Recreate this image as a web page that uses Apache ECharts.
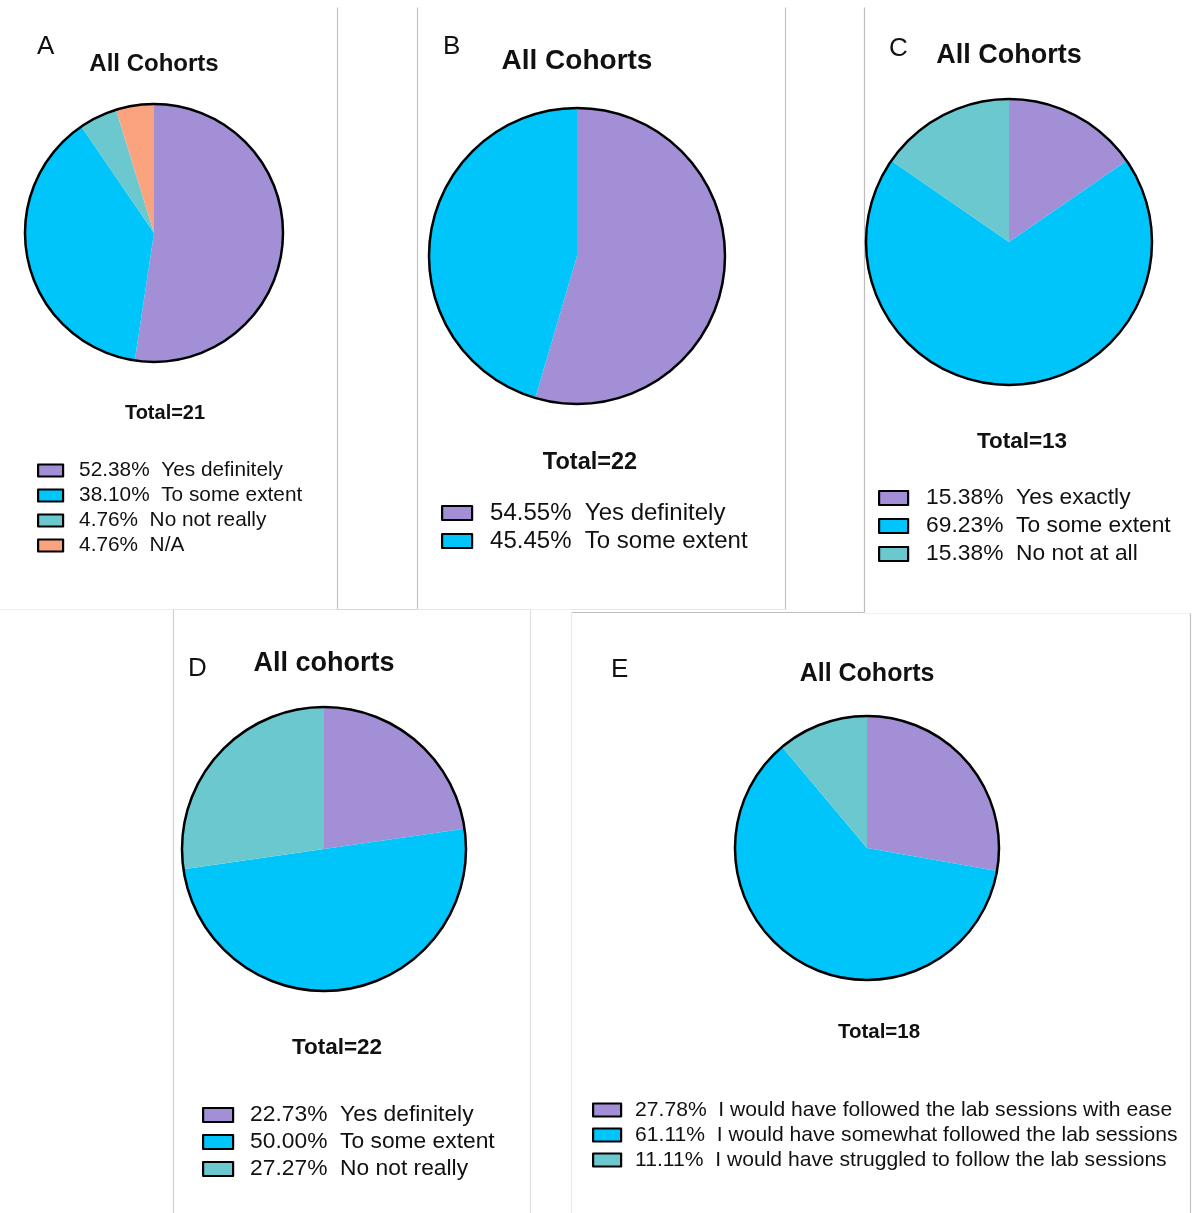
<!DOCTYPE html>
<html>
<head>
<meta charset="utf-8">
<title>All Cohorts – survey responses</title>
<script src="https://cdn.jsdelivr.net/npm/echarts@6/dist/echarts.min.js"></script>
<style>
  html, body { margin: 0; padding: 0; background: #fff; }
  #chart { width: 1196px; height: 1213px; }
</style>
</head>
<body>
<div id="chart"></div>
<script>
// ---- survey results, percent of respondents per answer ----
const aLabels = ['Yes definitely', 'To some extent', 'No not really', 'N/A'];
const aValues = [52.38, 38.10, 4.76, 4.76];
const aTotal = 21;

const bLabels = ['Yes definitely', 'To some extent'];
const bValues = [54.55, 45.45];
const bTotal = 22;

const cLabels = ['Yes exactly', 'To some extent', 'No not at all'];
const cValues = [15.38, 69.23, 15.38];
const cTotal = 13;

const dLabels = ['Yes definitely', 'To some extent', 'No not really'];
const dValues = [22.73, 50.00, 27.27];
const dTotal = 22;

const eLabels = ['I would have followed the lab sessions with ease',
                 'I would have somewhat followed the lab sessions',
                 'I would have struggled to follow the lab sessions'];
const eValues = [27.78, 61.11, 11.11];
const eTotal = 18;

const panelLetters = ['A', 'B', 'C', 'D', 'E'];
const panelTitles = ['All Cohorts', 'All Cohorts', 'All Cohorts', 'All cohorts', 'All Cohorts'];

// slice colours by answer order
const palette = ['#a38fd5', '#00c5fb', '#6bc8cf', '#fba27e'];
const FONT = '"Liberation Sans", Arial, Helvetica, sans-serif';

// panel geometry and text sizes
const layout = [
  { letter: [37, 34, 26], title: [154, 52, 24], pie: [154, 233, 129], total: [165, 403, 20],
    legend: { left: 37, top: 460, font: 20.8, lh: 21, gap: 4, iw: 25, ih: 12, pad: 11 } },
  { letter: [443, 34, 26], title: [577, 47, 28], pie: [577, 256, 148], total: [590, 451, 23.5],
    legend: { left: 441, top: 501, font: 24, lh: 24, gap: 4, iw: 30, ih: 14, pad: 13 } },
  { letter: [889, 36, 26], title: [1009, 42, 27], pie: [1009, 242, 143], total: [1022, 430, 22.5],
    legend: { left: 878, top: 486.5, font: 22.8, lh: 23, gap: 5, iw: 29, ih: 14, pad: 13 } },
  { letter: [188, 656, 26], title: [324, 650, 27], pie: [324, 849, 142], total: [337, 1036, 22.5],
    legend: { left: 202, top: 1103.5, font: 22.8, lh: 23, gap: 4, iw: 30, ih: 14, pad: 12 } },
  { letter: [611, 657, 26], title: [867, 662, 25], pie: [867, 848, 132], total: [879, 1022, 20.5],
    legend: { left: 592, top: 1099.5, font: 21.1, lh: 21, gap: 4, iw: 28, ih: 13, pad: 9 } }
];

const panels = [
  { labels: aLabels, values: aValues, total: aTotal },
  { labels: bLabels, values: bValues, total: bTotal },
  { labels: cLabels, values: cValues, total: cTotal },
  { labels: dLabels, values: dValues, total: dTotal },
  { labels: eLabels, values: eValues, total: eTotal }
];

const itemName = (v, label) => v.toFixed(2) + '%  ' + label;

const titles = [];
const legends = [];
const series = [];

panels.forEach((p, i) => {
  const L = layout[i];
  titles.push({
    text: panelLetters[i], left: L.letter[0], top: L.letter[1], padding: 0,
    textStyle: { fontFamily: FONT, fontSize: L.letter[2], fontWeight: 'normal', color: '#111' }
  });
  titles.push({
    text: panelTitles[i], left: L.title[0], top: L.title[1], textAlign: 'center', padding: 0,
    textStyle: { fontFamily: FONT, fontSize: L.title[2], fontWeight: 'bold', color: '#111' }
  });
  titles.push({
    text: 'Total=' + p.total, left: L.total[0], top: L.total[1], textAlign: 'center', padding: 0,
    textStyle: { fontFamily: FONT, fontSize: L.total[2], fontWeight: 'bold', color: '#111' }
  });

  const data = p.values.map((v, k) => ({
    name: itemName(v, p.labels[k]),
    value: v,
    itemStyle: { color: palette[k] }
  }));

  series.push({
    type: 'pie',
    center: [L.pie[0], L.pie[1]],
    radius: L.pie[2],
    startAngle: 90,
    clockwise: true,
    label: { show: false },
    labelLine: { show: false },
    itemStyle: { borderWidth: 0 },
    emphasis: { disabled: true },
    silent: true,
    data: data
  });
  // black outline round the whole pie
  series.push({
    type: 'pie',
    center: [L.pie[0], L.pie[1]],
    radius: L.pie[2],
    label: { show: false },
    labelLine: { show: false },
    itemStyle: { color: 'rgba(0,0,0,0)', borderColor: '#000', borderWidth: 2.5 },
    emphasis: { disabled: true },
    silent: true,
    data: [{ value: 1, name: 'outline' + i }]
  });

  const lg = L.legend;
  legends.push({
    orient: 'vertical',
    left: lg.left,
    top: lg.top,
    padding: 0,
    itemGap: lg.gap,
    itemWidth: lg.iw,
    itemHeight: lg.ih,
    icon: 'rect',
    selectedMode: false,
    itemStyle: { borderColor: '#000', borderWidth: 2.2 },
    data: data.map(d => d.name),
    formatter: name => '{g| }' + name,
    textStyle: {
      fontFamily: FONT, fontSize: lg.font, lineHeight: lg.lh, color: '#111',
      rich: { g: { width: lg.pad, fontSize: lg.font, lineHeight: lg.lh } }
    }
  });
});

// thin grey frames between the panels
const frameLines = [
  [337, 7, 337, 609, '#c4c4c4'], [417, 7, 417, 609, '#c4c4c4'], [337, 609, 417, 609, '#d8d8d8'],
  [0, 609, 337, 609, '#ececec'],
  [785, 7, 785, 609, '#c4c4c4'], [417, 609, 785, 609, '#e6e6e6'],
  [864, 7, 864, 612, '#bdbdbd'], [571, 612, 864, 612, '#bdbdbd'],
  [173, 609, 173, 1213, '#cfcfcf'], [173, 609, 337, 609, '#e6e6e6'],
  [530, 609, 530, 1213, '#e0e0e0'], [530, 609, 571, 609, '#ececec'],
  [571, 612, 571, 1213, '#ececec'], [864, 613, 1190, 613, '#f0f0f0'],
  [1190, 613, 1190, 1213, '#c4c4c4']
];
const graphic = frameLines.map(l => ({
  type: 'line', silent: true,
  shape: { x1: l[0] + 0.5, y1: l[1] + 0.5, x2: l[2] + 0.5, y2: l[3] + 0.5 },
  style: { stroke: l[4], lineWidth: 1.2 }
}));

const chart = echarts.init(document.getElementById('chart'), null, { renderer: 'canvas' });
chart.setOption({
  backgroundColor: '#ffffff',
  animation: false,
  title: titles,
  legend: legends,
  graphic: graphic,
  series: series
});
</script>
</body>
</html>
